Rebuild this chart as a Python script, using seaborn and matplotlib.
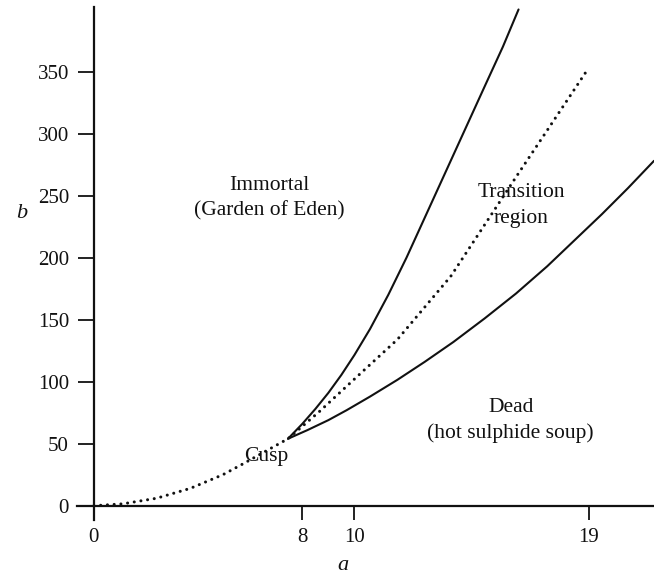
import matplotlib
matplotlib.use("Agg")
import matplotlib.pyplot as plt
import seaborn as sns
import pandas as pd

# ---- data ----
dotted_a = [0, 1.1, 2.4, 3.7, 4.95, 5.7, 7.45, 8.66, 10.2, 11.65, 13.7, 16.3, 17.35, 18.9]
dotted_b = [0, 1.5, 6.0, 14.0, 25, 33.5, 54, 76, 106, 134, 185, 268, 301, 350]

upper_a = [7.45, 8.0, 8.5, 9.0, 9.5, 10.0, 10.6, 11.3, 12.0, 13.0, 14.0, 15.0, 15.7, 16.3]
upper_b = [54, 66, 78, 91, 105.5, 121.5, 142.5, 170, 200, 246, 292, 338, 370, 400]

lower_a = [7.45, 8.2, 9.0, 9.7, 10.6, 11.65, 12.7, 13.8, 15.0, 16.2, 17.4, 18.5, 19.5, 20.5, 21.5]
lower_b = [54, 61, 69, 77, 88, 101.5, 116, 132, 151, 171, 193, 215, 235, 256, 278]

x_ticks = [0, 8, 10, 19]
y_ticks = [0, 50, 100, 150, 200, 250, 300, 350]

region_labels = ["Immortal\n(Garden of Eden)", "Transition\nregion",
                 "Dead\n(hot sulphide soup)", "Cusp"]
region_pos = [(6.75, 248), (16.4, 242), (16.0, 68.5), (6.63, 39.5)]

sns.set_theme(style="white")
plt.rcParams["font.family"] = ["Liberation Serif", "DejaVu Serif"]

fig = plt.figure(figsize=(6.54, 5.74), dpi=100)
ax = fig.add_axes([77 / 654, 54 / 574, 1 - 77 / 654, (520 - 7) / 574])

ink = "#111111"
df_dot = pd.DataFrame({"a": dotted_a, "b": dotted_b})
df_up = pd.DataFrame({"a": upper_a, "b": upper_b})
df_lo = pd.DataFrame({"a": lower_a, "b": lower_b})

sns.lineplot(data=df_dot, x="a", y="b", ax=ax, color=ink, lw=2.2, sort=False,
             linestyle=(0, (0.01, 2.2)), dash_capstyle="round")
sns.lineplot(data=df_up, x="a", y="b", ax=ax, color=ink, lw=1.5, sort=False)
sns.lineplot(data=df_lo, x="a", y="b", ax=ax, color=ink, lw=1.5, sort=False)

ax.set_xlim(-0.65, 21.5)
ax.set_ylim(-11.5, 402)

for s in ["top", "right"]:
    ax.spines[s].set_visible(False)
for s in ["left", "bottom"]:
    ax.spines[s].set_position(("data", 0))
    ax.spines[s].set_color(ink)
    ax.spines[s].set_linewidth(1.6)

ax.set_xticks(x_ticks)
ax.set_yticks(y_ticks)
ax.set_xticklabels([str(v) for v in x_ticks])
ax.set_yticklabels([str(v) for v in y_ticks])
ax.tick_params(axis="x", which="major", direction="out", length=10,
               width=1.3, color=ink, labelsize=15, labelcolor=ink, pad=6,
               bottom=True)
ax.tick_params(axis="y", which="major", direction="out", length=11.5,
               width=1.3, color=ink, labelsize=15, labelcolor=ink, pad=6.5,
               left=True)

ax.set_xlabel("a", fontsize=16, style="italic", color=ink)
ax.xaxis.set_label_coords((343 - 77) / 577, (520 - 565) / 513)
ax.xaxis.label.set_va("center")
ax.set_ylabel("b", fontsize=16, style="italic", color=ink, rotation=0)
ax.yaxis.set_label_coords((22 - 77) / 577, (520 - 213) / 513)
ax.yaxis.label.set_va("center")
ax.yaxis.label.set_ha("center")

for txt, (xa, yb) in zip(region_labels, region_pos):
    ax.text(xa, yb, txt, ha="center", va="center", fontsize=15.5,
            color=ink, linespacing=1.45)

fig.savefig("out.png", dpi=100, facecolor="white")
